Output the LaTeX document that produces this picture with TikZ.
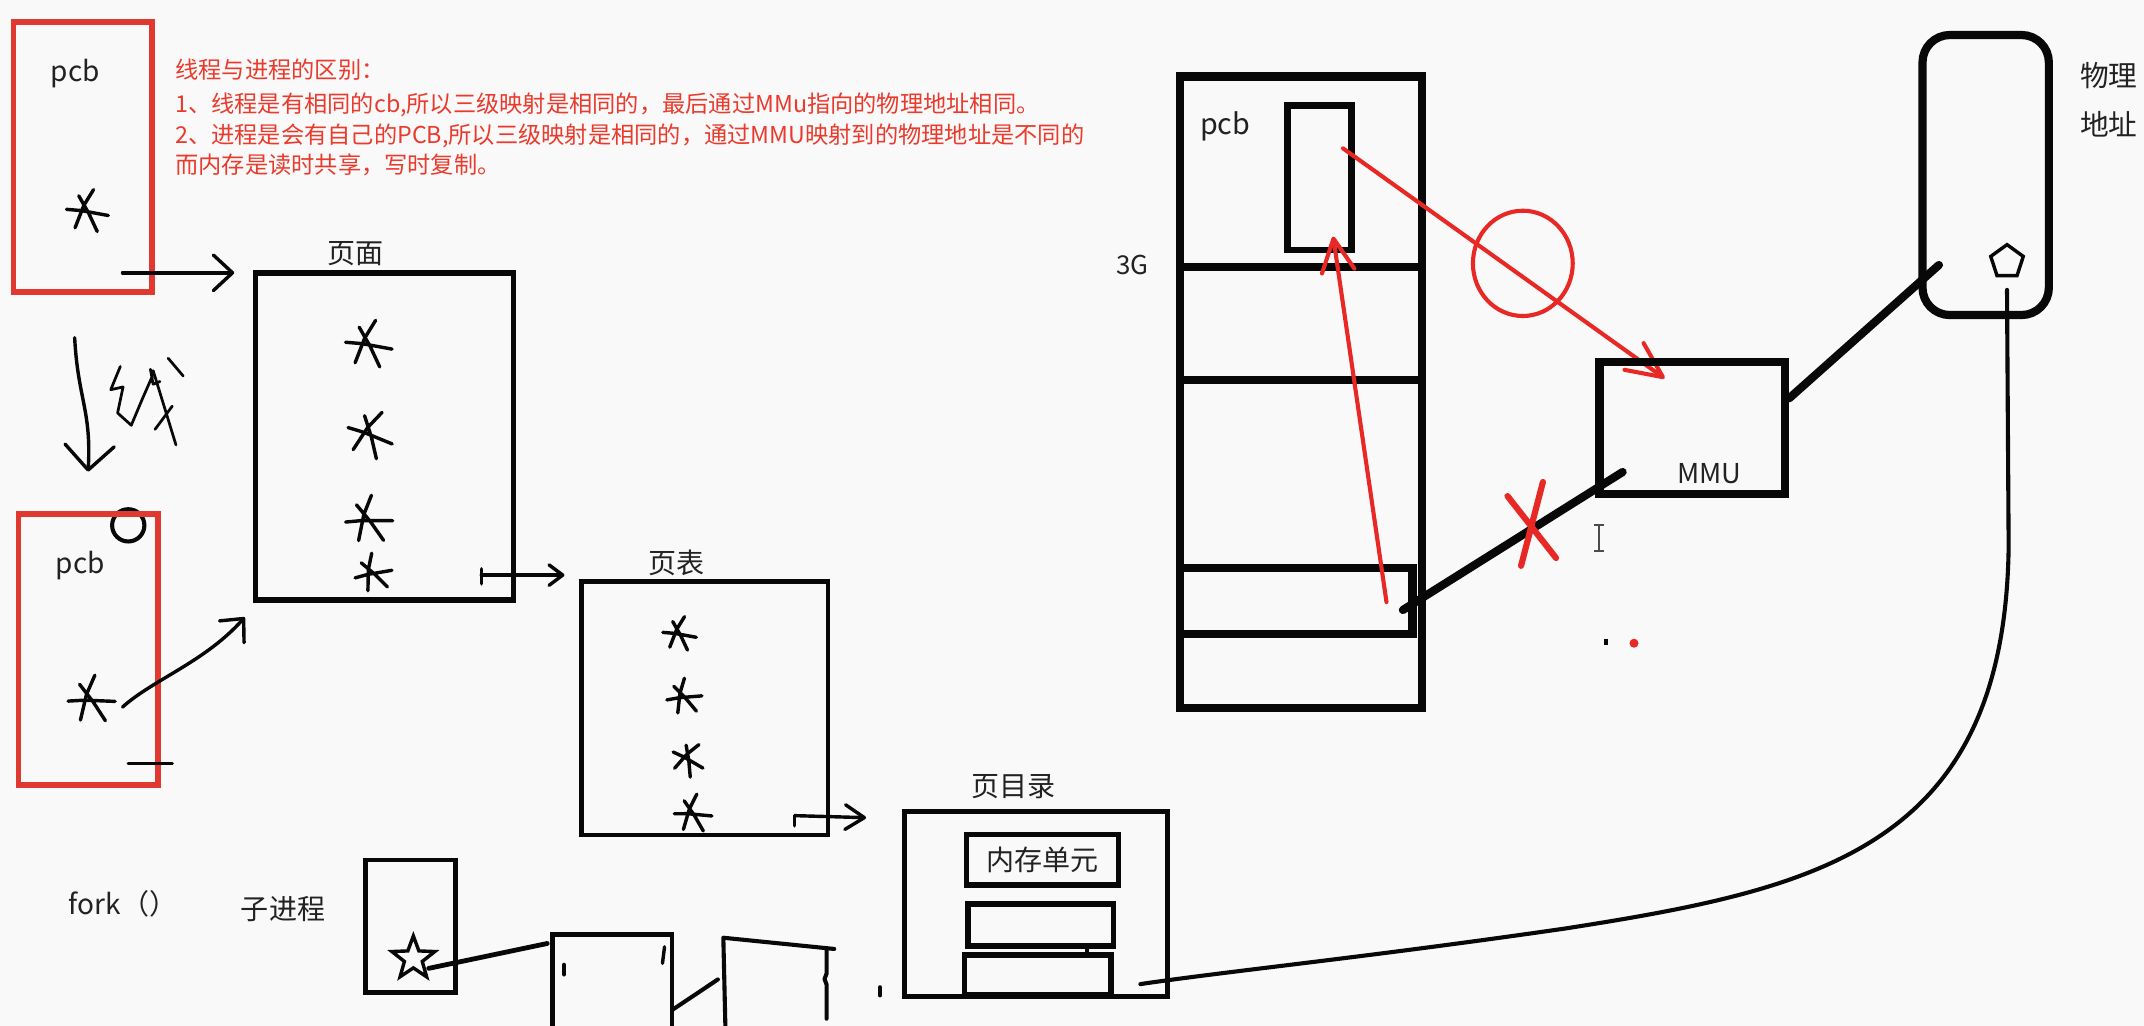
\documentclass[tikz,border=0pt]{standalone}
\usepackage{fontspec}
\setmainfont{Noto Sans CJK SC}
\usetikzlibrary{arrows.meta,shapes.geometric}
\definecolor{bgc}{RGB}{249,249,249}
\definecolor{redtxt}{RGB}{234,58,44}
\definecolor{redbox}{RGB}{224,58,48}
\definecolor{redpen}{RGB}{232,40,36}
\definecolor{ink}{RGB}{8,8,8}
\definecolor{labelc}{RGB}{34,34,34}
\tikzset{
  box/.style={draw=ink, inner sep=0pt, outer sep=0pt, anchor=north west, line join=miter},
  redframe/.style={box, draw=redbox, line width=4pt},
  lbl/.style={text=labelc, font=\fontsize{20.5}{24}\selectfont, inner sep=0pt},
  redline/.style={text=redtxt, font=\fontsize{17}{20}\selectfont, anchor=base west, inner sep=0pt},
  pen/.style={draw=ink, line width=2.5pt, line cap=round, line join=round},
  thickpen/.style={draw=ink, line width=6pt, line cap=round, line join=round},
  redstroke/.style={draw=redpen, line width=3pt, line cap=round, line join=round},
  handstar/.pic={\draw[pen] (-16,-1) -- (-4,0) -- (18,4) (6,-17) -- (-2,-4) -- (-9,14) (-6,-12) -- (2,2) -- (9,17);}
}
\begin{document}
\begin{tikzpicture}[x=1pt,y=-1pt]
\fill[bgc] (0,0) rectangle (1568,750);
\useasboundingbox (0,0) rectangle (1568,750);

% ---------- upper-left process ----------
\node[redframe, minimum width=101pt, minimum height=197.5pt] (pcbA) at (10,16) {};
\node[lbl] (pcbAlab) at (55,54) {pcb};
\pic[scale=0.9] (starA) at (63,154) {handstar};

\node[redline] (note1) at (128,57.5) {线程与进程的区别：};
\node[redline] (note2) at (128,82) {1、线程是有相同的cb,所以三级映射是相同的，最后通过MMu指向的物理地址相同。};
\node[redline] (note3) at (128,105) {2、进程是会有自己的PCB,所以三级映射是相同的，通过MMU映射到的物理地址是不同的};
\node[redline] (note4) at (128,127) {而内存是读时共享，写时复制。};

\coordinate (a1s) at (89.6,199.5);
\coordinate (a1e) at (171.3,199.5);
\draw[pen, -{Straight Barb[length=14pt,width=26pt,round]}] (a1s) -- (a1e);

% ---------- page box ----------
\node[lbl] (pagelab) at (260,185.5) {页面};
\node[box, line width=4pt, minimum width=188.5pt, minimum height=239.3pt] (pagebox) at (187,199.5) {};
\pic (ps1) at (268.7,251.3) {handstar};
\pic[rotate=-12] (ps2) at (270,317) {handstar};
\pic[rotate=10] (ps3) at (268.7,380) {handstar};
\pic[rotate=20,scale=0.8] (ps4) at (272,419) {handstar};

\coordinate (a2tick) at (352,416);
\coordinate (a2tickb) at (352,427);
\coordinate (a2s) at (352,420.6);
\coordinate (a2e) at (412.8,420.6);
\draw[pen] (a2tick) -- (a2tickb);
\draw[pen, -{Straight Barb[length=10pt,width=15pt,round]}] (a2s) -- (a2e);

% ---------- hand-written arrow and scribble ----------
\coordinate (dnS) at (54.6,247);
\coordinate (dnE) at (64.4,345);
\draw[pen, -{Straight Barb[length=18pt,width=36pt,round]}] (dnS) .. controls (57,292) and (67,300) .. (dnE);
\draw[pen, line width=2pt] (88,268) -- (81,285) -- (90,283) -- (86,302) -- (96,311) -- (104,292) -- (111,276)
  (110,270) -- (112,281) -- (117,279)
  (112,271) -- (128.7,325.4)
  (126,297) -- (113.4,314)
  (123,262) -- (134,275);

% ---------- lower-left process ----------
\node[circle, draw=ink, line width=3pt, minimum size=23.6pt, inner sep=0pt] (circA) at (93.8,384.2) {};
\node[redframe, minimum width=102pt, minimum height=198.2pt] (pcbB) at (13.4,375.8) {};
\node[lbl] (pcbBlab) at (58.8,413.6) {pcb};
\pic[rotate=8] (starB) at (65.8,511.5) {handstar};
\coordinate (barL) at (93.8,558.3);
\coordinate (barR) at (126,558.3);
\draw[pen] (barL) -- (barR);
\coordinate (a3s) at (89.6,517.1);
\coordinate (a3e) at (179,451.4);
\draw[pen, -{Straight Barb[length=13pt,width=24pt,round]}] (a3s) .. controls (112,497) and (150,484) .. (a3e);

% ---------- page table ----------
\node[lbl] (tablelab) at (494.6,412) {页表};
\node[box, line width=3.5pt, minimum width=180.2pt, minimum height=185.3pt] (tablebox) at (425.4,425.4) {};
\pic[scale=0.72] (ts1) at (496.3,463.2) {handstar};
\pic[scale=0.75,rotate=15] (ts2) at (499.5,509.5) {handstar};
\pic[scale=0.72,rotate=-20] (ts3) at (502.9,554.6) {handstar};
\pic[scale=0.8,rotate=5] (ts4) at (506,594.8) {handstar};

\coordinate (a4tick) at (581.2,604);
\coordinate (a4s) at (581.2,596.5);
\coordinate (a4e) at (633.4,598);
\draw[pen] (a4tick) -- (a4s);
\draw[pen, -{Straight Barb[length=14pt,width=18pt,round]}] (a4s) -- (a4e);

% ---------- page directory ----------
\node[lbl] (dirlab) at (741.2,575.3) {页目录};
\node[box, line width=3.5pt, minimum width=192.5pt, minimum height=135pt] (dirbox) at (661.5,593.6) {};
\node[box, line width=4pt, minimum width=111pt, minimum height=37pt] (memunit) at (707,610.2) {};
\node[lbl] (memlab) at (memunit.center) {内存单元};
\node[box, line width=4pt, minimum width=106.4pt, minimum height=30.7pt] (slot2) at (708,661.2) {};
\node[box, line width=4pt, minimum width=107.3pt, minimum height=29.2pt] (slot3) at (705.3,698.5) {};
\draw[pen, line width=3pt] (795,693.5) -- (795,698.5);

% ---------- fork / child ----------
\node[lbl] (forklab) at (90,660.7) {fork（）};
\node[lbl] (childlab) at (207,665) {子进程};
\node[box, line width=3.5pt, minimum width=65.5pt, minimum height=97pt] (childbox) at (267.5,629) {};
\node[star, star points=5, star point ratio=2.4, minimum size=33pt, draw=ink, line width=2.5pt, inner sep=0pt] (cstar) at (302.3,701) {};
\coordinate (c1s) at (313.5,708.2);
\coordinate (c1e) at (400.2,690);
\draw[pen, line width=3.5pt] (c1s) -- (c1e);
\node[box, line width=3.5pt, minimum width=87.5pt, minimum height=72pt] (frameA) at (404,683.3) {};
\draw[pen, line width=3.5pt] (412.5,705.8) -- (412.5,712.4);
\draw[pen] (486,692.4) -- (484.5,704.5);
\coordinate (c2s) at (491.5,738.7);
\coordinate (c2e) at (525,716.3);
\draw[pen, line width=3pt] (c2s) -- (c2e);
\coordinate (fbL) at (530.6,755);
\coordinate (fbTL) at (529,685.8);
\coordinate (fbTR) at (610.1,694);
\coordinate (fbR) at (604.5,694);
\coordinate (fbRb) at (604.5,745);
\draw[pen, line width=3pt] (fbL) -- (fbTL) -- (fbTR);
\draw[pen, line width=3pt] (fbR) -- (604.5,712) -- (603,716) -- (604.5,720) -- (fbRb);
\draw[pen, line width=3pt] (643.6,722) -- (643.6,728);

% ---------- virtual address space ----------
\node[lbl, font=\fontsize{19}{22}\selectfont] (g3lab) at (828,193.8) {3G};
\node[box, line width=6pt, minimum width=177pt, minimum height=462pt] (tallbox) at (863,56) {};
\draw[ink, line width=6pt] (863,195) -- (1041,195);
\draw[ink, line width=6pt] (863,278) -- (1040,278);
\node[box, line width=6pt, minimum width=170pt, minimum height=48.3pt] (band) at (863,415.4) {};
\node[lbl, font=\fontsize{21}{24}\selectfont] (pcbClab) at (896,92.6) {pcb};
\node[box, line width=5pt, minimum width=46.8pt, minimum height=105.5pt] (pcbcell) at (941.8,77.3) {};

\coordinate (r1s) at (1014,440.3);
\coordinate (r1e) at (975,173);
\draw[redstroke, -{Straight Barb[length=24pt,width=24pt,round]}] (r1s) -- (r1e);
\coordinate (r2s) at (982.2,108.5);
\coordinate (r2e) at (1217.4,276.7);
\draw[redstroke, -{Straight Barb[length=26pt,width=24pt,round]}] (r2s) -- (r2e);
\node[ellipse, draw=redpen, line width=3pt, minimum width=73pt, minimum height=77pt, inner sep=0pt] (rcirc) at (1113.7,192.6) {};

% ---------- MMU ----------
\node[box, line width=6pt, minimum width=136pt, minimum height=96.8pt] (mmu) at (1169.7,264.5) {};
\node[lbl, font=\fontsize{20}{24}\selectfont] (mmulab) at (1250,346.7) {MMU};
\coordinate (bandOut) at (1026,446.1);
\coordinate (mmuIn) at (1186.7,345.2);
\draw[thickpen] (bandOut) -- (mmuIn);
\draw[draw=redpen, line width=4.5pt, line cap=round] (1102.5,362.8) -- (1138,408.1) (1128.4,352.5) -- (1112.4,413.8);
\coordinate (mmuOut) at (1308.5,291.3);
\coordinate (physIn) at (1418,193.8);
\draw[thickpen] (mmuOut) -- (physIn);

% ---------- physical memory ----------
\node[box, line width=6pt, rounded corners=20pt, minimum width=92.4pt, minimum height=204.8pt] (phys) at (1406,25.6) {};
\node[regular polygon, regular polygon sides=5, minimum size=25pt, draw=ink, line width=2.5pt, inner sep=0pt] (pent) at (1467.8,191.4) {};
\node[lbl, font=\fontsize{21}{24}\selectfont] (physlab1) at (1542.2,55) {物理};
\node[lbl, font=\fontsize{21}{24}\selectfont] (physlab2) at (1542.2,91) {地址};

\coordinate (physEnd) at (1467.8,212);
\coordinate (bendA) at (1469,400);
\coordinate (bendB) at (1145,679);
\coordinate (dirEnd) at (834,719.7);
\draw[ink, line width=3pt, line cap=round] (physEnd) -- (bendA) .. controls (1466,620) and (1330,650) .. (bendB) .. controls (1000,700) and (900,710) .. (dirEnd);

% ---------- cursor and dots ----------
\draw[gray!60!black, line width=1pt] (1166,384) -- (1173,384) (1169.5,384) -- (1169.5,403) (1166,403) -- (1173,403);
\draw[ink, line width=3pt] (1174.6,467) -- (1174.6,472);
\fill[redpen] (1195,470.4) circle (3.3pt);
\end{tikzpicture}
\end{document}
